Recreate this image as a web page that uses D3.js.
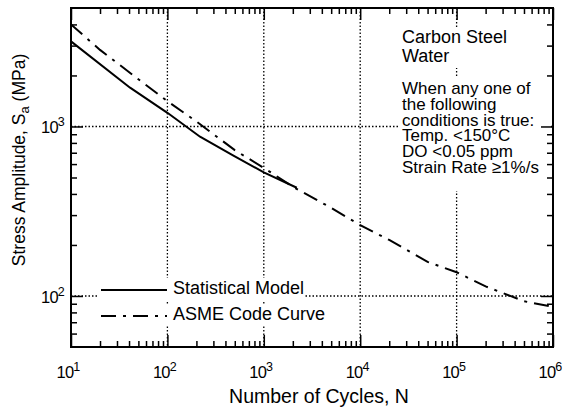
<!DOCTYPE html>
<html>
<head>
<meta charset="utf-8">
<script src="https://cdn.jsdelivr.net/npm/d3@7"></script>
<style>
  body { margin: 0; background: #fff; }
  text { font-family: "Liberation Sans", Arial, Helvetica, sans-serif; fill: #000; }
</style>
</head>
<body>
<svg id="chart" width="568" height="413"></svg>
<script>
// ASME Section III design curve for carbon steel (cycles, stress amplitude in MPa)
const asmeCycles = [10, 20, 50, 100, 200, 500, 1e3, 2e3, 5e3, 1e4, 2e4, 5e4, 1e5, 2e5, 5e5, 1e6];
const asmeStress = [4000, 2830, 1900, 1410, 1070, 725, 570, 441, 331, 262, 214, 159, 138, 114, 93.1, 86.2];
// Statistical model curve
const modelCycles = [10, 41, 100, 218, 479, 1000, 2200];
const modelStress = [3177, 1694, 1204, 870, 676, 536, 435];

const xExponents = [1, 2, 3, 4, 5, 6];
const yExponents = [2, 3];
const infoTop = ["Carbon Steel", "Water"];
const infoBottom = ["When any one of", "the following", "conditions is true:",
                    "Temp. <150°C", "DO <0.05 ppm", "Strain Rate \u22651%/s"];
const legendLabels = ["Statistical Model", "ASME Code Curve"];
const xTitle = "Number of Cycles, N";

const plot = { left: 71, right: 553, top: 8, bottom: 347 };

const svg = d3.select("#chart");
const x = d3.scaleLog().domain([10, 1e6]).range([plot.left, plot.right]);
const y = d3.scaleLog().domain([50, 5000]).range([plot.bottom, plot.top]);

// minor ticks
const xMinor = [];
for (let e = 1; e < 6; e++) for (let k = 2; k <= 9; k++) xMinor.push(k * Math.pow(10, e));
const yMinor = [];
for (let e = 1; e < 4; e++) for (let k = 2; k <= 9; k++) {
  const v = k * Math.pow(10, e);
  if (v > 50 && v < 5000) yMinor.push(v);
}
const xMajor = xExponents.map(e => Math.pow(10, e));
const yMajor = yExponents.map(e => Math.pow(10, e));

svg.append("defs").append("clipPath").attr("id", "plotClip")
  .append("rect").attr("x", plot.left).attr("y", plot.top)
  .attr("width", plot.right - plot.left).attr("height", plot.bottom - plot.top);

// dotted grid at decades
const grid = svg.append("g").attr("stroke", "#000").attr("stroke-width", 1.3)
  .attr("stroke-dasharray", "1.5,2");
grid.selectAll("line.gx").data(xMajor.filter(v => v > 10 && v < 1e6)).join("line")
  .attr("x1", d => x(d)).attr("x2", d => x(d)).attr("y1", plot.top).attr("y2", plot.bottom);
grid.selectAll("line.gy").data(yMajor).join("line")
  .attr("y1", d => y(d)).attr("y2", d => y(d)).attr("x1", plot.left).attr("x2", plot.right);

// curves
const line = d3.line().x(d => x(d[0])).y(d => y(d[1]));
const curves = svg.append("g").attr("clip-path", "url(#plotClip)").attr("fill", "none")
  .attr("stroke", "#000");
curves.append("path")
  .datum(asmeCycles.map((c, i) => [c, asmeStress[i]]))
  .attr("d", line).attr("stroke-width", 2).attr("stroke-dasharray", "15,7,3,7");
curves.append("path")
  .datum(modelCycles.map((c, i) => [c, modelStress[i]]))
  .attr("d", line).attr("stroke-width", 2);

// text block with opaque backing; each paragraph is one multi-line text
const info = svg.append("g");
info.append("rect").attr("x", 400).attr("y", 27).attr("width", 151).attr("height", 41).attr("fill", "#fff");
info.append("rect").attr("x", 400).attr("y", 77).attr("width", 151).attr("height", 114).attr("fill", "#fff");
info.append("text").attr("x", 402).attr("y", 43).attr("font-size", 18)
  .selectAll("tspan").data(infoTop).join("tspan")
  .attr("x", 402).attr("dy", (d, i) => i === 0 ? 0 : 19).text(d => d);
info.append("text").attr("x", 402).attr("y", 94).attr("font-size", 17)
  .selectAll("tspan").data(infoBottom).join("tspan")
  .attr("x", 402).attr("dy", (d, i) => i === 0 ? 0 : 15.8).text(d => d);

// legend
const legend = svg.append("g");
const rowY = [290, 316];
const rowW = [206, 226];
legendLabels.forEach((lab, i) => {
  legend.append("rect").attr("x", 99).attr("y", rowY[i] - 12).attr("width", rowW[i]).attr("height", 22)
    .attr("fill", "#fff");
  legend.append("line").attr("x1", 101).attr("x2", 167).attr("y1", rowY[i]).attr("y2", rowY[i])
    .attr("stroke", "#000").attr("stroke-width", 2)
    .attr("stroke-dasharray", i === 1 ? "15,7,3,7" : null);
  legend.append("text").attr("x", 173).attr("y", rowY[i] + 4).attr("font-size", 18).text(lab);
});

// axes: inward ticks on all four sides
function addAxis(axisFn, scale, values, size, transform) {
  const g = svg.append("g").attr("transform", transform)
    .call(axisFn(scale).tickValues(values).tickSize(-size).tickFormat(""));
  g.select(".domain").remove();
  g.selectAll(".tick line").attr("stroke", "#000").attr("stroke-width", 1.5);
}
addAxis(d3.axisBottom, x, xMinor, 6, `translate(0,${plot.bottom})`);
addAxis(d3.axisBottom, x, xMajor, 12, `translate(0,${plot.bottom})`);
addAxis(d3.axisTop, x, xMinor, 6, `translate(0,${plot.top})`);
addAxis(d3.axisTop, x, xMajor, 12, `translate(0,${plot.top})`);
addAxis(d3.axisLeft, y, yMinor, 6, `translate(${plot.left},0)`);
addAxis(d3.axisLeft, y, yMajor, 12, `translate(${plot.left},0)`);
addAxis(d3.axisRight, y, yMinor, 6, `translate(${plot.right},0)`);
addAxis(d3.axisRight, y, yMajor, 12, `translate(${plot.right},0)`);

svg.append("rect").attr("x", plot.left).attr("y", plot.top)
  .attr("width", plot.right - plot.left).attr("height", plot.bottom - plot.top)
  .attr("fill", "none").attr("stroke", "#000").attr("stroke-width", 2);

// tick labels as powers of ten
function powerLabel(sel, e) {
  sel.append("tspan").text("10");
  sel.append("tspan").attr("font-size", 12.5).attr("dy", -7).text(e);
}
xExponents.forEach(e => {
  svg.append("text").attr("x", x(Math.pow(10, e)) - 3).attr("y", 378)
    .attr("text-anchor", "middle").attr("font-size", 16.5).attr("letter-spacing", -0.8)
    .call(powerLabel, e);
});
yExponents.forEach(e => {
  svg.append("text").attr("x", 64).attr("y", y(Math.pow(10, e)) + 7)
    .attr("text-anchor", "end").attr("font-size", 16.5).attr("letter-spacing", -0.8)
    .call(powerLabel, e);
});

// axis titles
svg.append("text").attr("x", 319).attr("y", 403).attr("text-anchor", "middle")
  .attr("font-size", 19.5).text(xTitle);
const yt = svg.append("text").attr("transform", "translate(25,160) rotate(-90)")
  .attr("text-anchor", "middle").attr("font-size", 17.5);
yt.append("tspan").text("Stress Amplitude, S");
yt.append("tspan").attr("font-size", 13).attr("dy", 4).text("a");
yt.append("tspan").attr("dy", -4).text(" (MPa)");
</script>
</body>
</html>
